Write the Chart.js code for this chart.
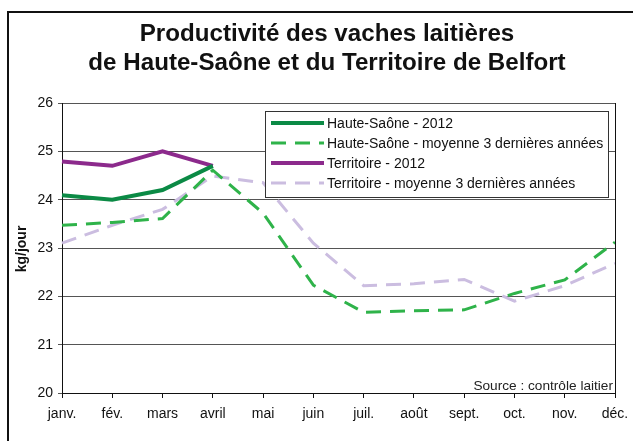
<!DOCTYPE html>
<html><head><meta charset="utf-8">
<script src="https://cdn.jsdelivr.net/npm/chart.js@4.4.0/dist/chart.umd.min.js"></script>
<style>html,body{margin:0;padding:0;background:#fff;}#wrap{width:633px;height:441px;}</style>
</head><body><div id="wrap"><canvas id="c" width="633" height="441"></canvas></div>
<script>
const months = ['janv.','fév.','mars','avril','mai','juin','juil.','août','sept.','oct.','nov.','déc.'];
const hs2012 = [24.09, 24.0, 24.2, 24.7, null, null, null, null, null, null, null, null];
const hsMoy = [23.47, 23.53, 23.61, 24.61, 23.72, 22.23, 21.67, 21.70, 21.72, 22.06, 22.34, 23.12];
const tb2012 = [24.79, 24.7, 25.0, 24.7, null, null, null, null, null, null, null, null];
const tbMoy = [23.1, 23.47, 23.8, 24.49, 24.35, 23.1, 22.22, 22.26, 22.35, 21.9, 22.22, 22.68];
const yTicks = [20, 21, 22, 23, 24, 25, 26];
const titleLines = ['Productivité des vaches laitières', 'de Haute-Saône et du Territoire de Belfort'];
const yTitle = 'kg/jour';
const sourceText = 'Source : contrôle laitier';

const FONT = '"Liberation Sans", Arial, sans-serif';

function stretchedText(ctx, text, x, y, sx, align) {
  ctx.save();
  ctx.translate(x, y);
  ctx.scale(sx, 1);
  ctx.textAlign = align;
  ctx.fillText(text, 0, 0);
  ctx.restore();
}

const extras = {
  id: 'extras',
  beforeDraw(chart) {
    const ctx = chart.ctx;
    ctx.save();
    ctx.fillStyle = '#fff';
    ctx.fillRect(0, 0, chart.width, chart.height);
    ctx.strokeStyle = '#111';
    ctx.lineWidth = 2;
    ctx.beginPath();
    ctx.moveTo(8, 445); ctx.lineTo(8, 12); ctx.lineTo(640, 12);
    ctx.stroke();
    ctx.fillStyle = '#111';
    ctx.font = 'bold 23px ' + FONT;
    ctx.textBaseline = 'alphabetic';
    stretchedText(ctx, titleLines[0], 327, 41, 1.05, 'center');
    stretchedText(ctx, titleLines[1], 327, 70, 1.05, 'center');
    ctx.save();
    ctx.translate(22, 249);
    ctx.rotate(-Math.PI / 2);
    ctx.font = 'bold 14px ' + FONT;
    ctx.textAlign = 'center';
    ctx.textBaseline = 'middle';
    ctx.fillText(yTitle, 0, 0);
    ctx.restore();
    ctx.restore();
  },
  afterDraw(chart) {
    const ctx = chart.ctx;
    const a = chart.chartArea;
    ctx.save();
    ctx.strokeStyle = '#111';
    ctx.lineWidth = 1;
    ctx.beginPath();
    ctx.moveTo(a.right + 0.5, a.top);
    ctx.lineTo(a.right + 0.5, a.bottom);
    ctx.stroke();
    ctx.fillStyle = '#222';
    ctx.font = '13px ' + FONT;
    ctx.textBaseline = 'alphabetic';
    stretchedText(ctx, sourceText, a.right - 2, a.bottom - 3, 1.05, 'right');
    const lx = 265, ly = 111, lw = 343, lh = 86;
    ctx.fillStyle = '#fff';
    ctx.fillRect(lx, ly, lw, lh);
    ctx.strokeStyle = '#333';
    ctx.lineWidth = 1;
    ctx.strokeRect(lx + 0.5, ly + 0.5, lw, lh);
    chart.data.datasets.forEach((ds, i) => {
      const y = 123 + i * 20;
      ctx.strokeStyle = ds.borderColor;
      ctx.lineWidth = ds.borderWidth;
      ctx.setLineDash(ds.borderDash || []);
      ctx.beginPath();
      ctx.moveTo(271, y); ctx.lineTo(324, y);
      ctx.stroke();
      ctx.setLineDash([]);
      ctx.fillStyle = '#111';
      ctx.font = '14px ' + FONT;
      ctx.textBaseline = 'middle';
      stretchedText(ctx, ds.label, 327, y + 1, 1.0, 'left');
    });
    ctx.restore();
  }
};

new Chart(document.getElementById('c'), {
  type: 'line',
  data: {
    labels: months,
    datasets: [
      { label: 'Haute-Saône - 2012', data: hs2012, borderColor: '#0b8a45', borderWidth: 4, pointRadius: 0, tension: 0 },
      { label: 'Haute-Saône - moyenne 3 dernières années', data: hsMoy, borderColor: '#2fb34a', borderWidth: 3, borderDash: [15, 9], pointRadius: 0, tension: 0 },
      { label: 'Territoire - 2012', data: tb2012, borderColor: '#8c2a8c', borderWidth: 4, pointRadius: 0, tension: 0 },
      { label: 'Territoire - moyenne 3 dernières années', data: tbMoy, borderColor: '#cbbde0', borderWidth: 3, borderDash: [15, 9], pointRadius: 0, tension: 0 }
    ]
  },
  options: {
    responsive: false,
    animation: false,
    devicePixelRatio: 1,
    layout: { padding: { top: 103, right: 18, left: 0, bottom: 0 } },
    plugins: { legend: { display: false }, title: { display: false }, tooltip: { enabled: false } },
    scales: {
      x: {
        offset: false,
        grid: { drawOnChartArea: false, drawTicks: true, tickLength: 5, color: '#111' },
        border: { color: '#111', width: 1 },
        ticks: { color: '#111', font: { family: FONT, size: 14 }, padding: 8, maxRotation: 0, autoSkip: false },
        afterFit(s) { s.height = 48; s.paddingRight = 0; }
      },
      y: {
        min: 20, max: 26,
        afterBuildTicks(s) { s.ticks = yTicks.map(v => ({ value: v })); },
        grid: { color: '#555', lineWidth: 1, drawTicks: true, tickLength: 4 },
        border: { color: '#111', width: 1 },
        ticks: { color: '#111', font: { family: FONT, size: 14 }, padding: 5 },
        afterFit(s) { s.width = 62; }
      }
    }
  },
  plugins: [extras]
});
</script>
</body></html>
